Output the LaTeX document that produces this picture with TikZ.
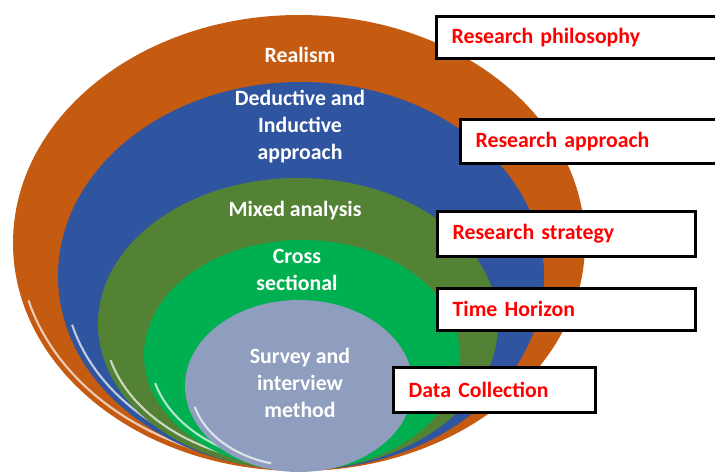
\documentclass[tikz,border=0pt]{standalone}
\usepackage{fontspec}
\setmainfont{Carlito}
\usetikzlibrary{positioning, shapes.geometric}

\definecolor{philOrange}{RGB}{197,90,17}
\definecolor{apprBlue}{RGB}{47,85,160}
\definecolor{stratGreen}{RGB}{84,130,53}
\definecolor{timeGreen}{RGB}{0,176,80}
\definecolor{dataGrey}{RGB}{143,158,190}

\begin{document}
\begin{tikzpicture}[x=0.025cm, y=-0.025cm,
  layer/.style={text=white, align=center, font=\bfseries\fontsize{15.5}{19.2}\selectfont},
  tag/.style={draw=black, line width=2pt, fill=white, anchor=north west, align=left,
    text=red, inner xsep=0.38cm, text width=#1, font=\bfseries\fontsize{15.5}{18}\selectfont},
  gleam/.style={white, opacity=0.7, line width=1.5pt}]
\useasboundingbox (0,0) rectangle (715,475);
\clip (0,0) rectangle (715,475);

% the layers, outer to inner
\fill[philOrange] (299,243) ellipse [x radius=286, y radius=228];
\draw[gleam] (299,243) ++(105:280 and 222) arc [start angle=105, end angle=165, x radius=280, y radius=222];
\fill[apprBlue] (301,276) ellipse [x radius=243, y radius=194];
\draw[gleam] (301,276) ++(105:237 and 188) arc [start angle=105, end angle=165, x radius=237, y radius=188];
\fill[stratGreen] (298,324) ellipse [x radius=200, y radius=146];
\draw[gleam] (298,324) ++(105:194 and 140) arc [start angle=105, end angle=165, x radius=194, y radius=140];
\fill[timeGreen] (302,355) ellipse [x radius=158, y radius=115];
\draw[gleam] (302,355) ++(105:152 and 109) arc [start angle=105, end angle=165, x radius=152, y radius=109];
\fill[dataGrey] (299,386) ellipse [x radius=114, y radius=86];
\draw[gleam] (299,386) ++(105:108 and 80) arc [start angle=105, end angle=165, x radius=108, y radius=80];

% what sits in each layer
\node[layer] (realism) at (300,55) {Realism};
\node[layer] (deduct) at (300,127) {Deductive and\\Inductive\\approach};
\node[layer] (mixed) at (295,211) {Mixed analysis};
\node[layer] (cross) at (297,270) {Cross\\sectional};
\node[layer] (survey) at (300,383) {Survey and\\interview\\method};

% the names of the layers
\node[tag=7.4cm, minimum height=1.05cm] (philosophy) at (435,15) {Research philosophy};
\node[tag=6.8cm, minimum height=1.1cm] (approach) at (459,118) {Research approach};
\node[tag=5.69cm, minimum height=1.12cm] (strategy) at (436,210) {Research strategy};
\node[tag=5.69cm, minimum height=1.05cm] (horizon) at (436,287) {Time Horizon};
\node[tag=4.29cm, minimum height=1.12cm] (collection) at (392,366) {Data Collection};
\end{tikzpicture}
\end{document}
